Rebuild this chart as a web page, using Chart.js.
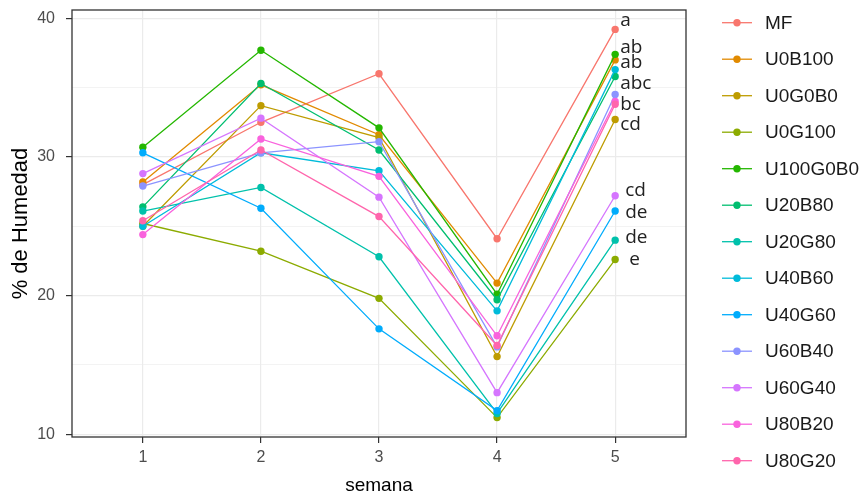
<!DOCTYPE html>
<html>
<head>
<meta charset="utf-8">
<script src="https://cdn.jsdelivr.net/npm/chart.js@4.4.0/dist/chart.umd.min.js"></script>
<style>
html, body { margin: 0; padding: 0; background: #fff; }
#wrap { width: 866px; height: 497px; }
</style>
</head>
<body>
<div id="wrap"><canvas id="chart-area" width="866" height="497"></canvas></div>
<script>
// semanas (eje x)
var semanas = [1, 2, 3, 4, 5];
var y_ticks = [10, 15, 20, 25, 30, 35, 40];

// % de humedad por tratamiento, semana 1..5
var MF       = [28.0, 32.5, 36.0, 24.1, 39.2];
var U0B100   = [28.2, 35.2, 31.6, 20.9, 37.0];
var U0G0B0   = [25.0, 33.7, 31.4, 15.6, 32.7];
var U0G100   = [25.2, 23.2, 19.8, 11.2, 22.6];
var U100G0B0 = [30.7, 37.7, 32.1, 20.1, 37.4];
var U20B80   = [26.4, 35.3, 30.5, 19.7, 35.8];
var U20G80   = [26.1, 27.8, 22.8, 11.5, 24.0];
var U40B60   = [25.0, 30.3, 29.0, 18.9, 36.3];
var U40G60   = [30.3, 26.3, 17.6, 11.7, 26.1];
var U60B40   = [27.9, 30.3, 31.1, 16.3, 34.5];
var U60G40   = [28.8, 32.8, 27.1, 13.0, 27.2];
var U80B20   = [24.4, 31.3, 28.6, 17.1, 34.0];
var U80G20   = [25.4, 30.5, 25.7, 16.4, 33.8];

// letras de significancia en la semana 5
var letras   = ['a', 'ab', 'ab', 'abc', 'bc', 'cd', 'cd', 'de', 'de', 'e'];
var letras_y = [39.8, 37.9, 36.8, 35.3, 33.8, 32.3, 27.6, 26.0, 24.2, 22.6];

var nombres = ['MF', 'U0B100', 'U0G0B0', 'U0G100', 'U100G0B0', 'U20B80', 'U20G80',
               'U40B60', 'U40G60', 'U60B40', 'U60G40', 'U80B20', 'U80G20'];
var series = [MF, U0B100, U0G0B0, U0G100, U100G0B0, U20B80, U20G80,
              U40B60, U40G60, U60B40, U60G40, U80B20, U80G20];
var colores = ['#F8766D', '#E18A00', '#BE9C00', '#8CAB00', '#24B700', '#00BE70', '#00C1AB',
               '#00BBDA', '#00ACFC', '#8B93FF', '#D575FE', '#F962DD', '#FF65AC'];

var datasets = [];
for (var i = 0; i < series.length; i++) {
  var pts = [];
  for (var j = 0; j < semanas.length; j++) {
    pts.push({x: semanas[j], y: series[i][j]});
  }
  datasets.push({
    label: nombres[i],
    data: pts,
    borderColor: colores[i],
    backgroundColor: colores[i],
    pointBackgroundColor: colores[i],
    pointBorderWidth: 0,
    pointRadius: 3.7,
    borderWidth: 1.3,
    tension: 0,
    order: series.length - i
  });
}

// marco del panel (theme_bw)
var panelBorder = {
  id: 'panelBorder',
  afterDatasetsDraw: function(chart) {
    var a = chart.chartArea, ctx = chart.ctx;
    ctx.save();
    ctx.strokeStyle = '#333333';
    ctx.lineWidth = 1.3;
    ctx.strokeRect(a.left, a.top, a.right - a.left, a.bottom - a.top);
    ctx.restore();
  }
};

// letras junto a la semana 5
var letrasPlugin = {
  id: 'letras',
  afterDatasetsDraw: function(chart) {
    var ctx = chart.ctx;
    var x0 = chart.scales.x.getPixelForValue(5);
    ctx.save();
    ctx.font = '19px "Open Sans"';
    ctx.fillStyle = '#222222';
    ctx.textAlign = 'left';
    ctx.textBaseline = 'middle';
    for (var k = 0; k < letras.length; k++) {
      var dx = k < 6 ? 5 : (k < 9 ? 10 : 14);
      ctx.fillText(letras[k], x0 + dx, chart.scales.y.getPixelForValue(letras_y[k]));
    }
    ctx.restore();
  }
};

// leyenda a la derecha, estilo ggplot
var leyenda = {
  id: 'leyenda',
  afterDraw: function(chart) {
    var ctx = chart.ctx;
    ctx.save();
    ctx.font = '19px "Liberation Sans", Arial, sans-serif';
    ctx.textBaseline = 'middle';
    ctx.textAlign = 'left';
    for (var k = 0; k < nombres.length; k++) {
      var y = 22.7 + k * 36.5;
      ctx.strokeStyle = colores[k];
      ctx.lineWidth = 1.3;
      ctx.beginPath();
      ctx.moveTo(722, y);
      ctx.lineTo(752, y);
      ctx.stroke();
      ctx.fillStyle = colores[k];
      ctx.beginPath();
      ctx.arc(737, y, 3.7, 0, Math.PI * 2);
      ctx.fill();
      ctx.fillStyle = '#1a1a1a';
      ctx.fillText(nombres[k], 765, y + 1);
    }
    ctx.restore();
  }
};

var config = {
  type: 'line',
  data: { datasets: datasets },
  options: {
    responsive: false,
    devicePixelRatio: 1,
    animation: false,
    events: [],
    layout: { padding: { top: 0, right: 180, left: 0, bottom: 0 } },
    plugins: { legend: { display: false }, tooltip: { enabled: false } },
    scales: {
      x: {
        type: 'linear',
        min: 0.4,
        max: 5.6,
        afterBuildTicks: function(scale) {
          scale.ticks = semanas.map(function(v) { return {value: v}; });
        },
        afterFit: function(scale) { scale.height = 60; },
        grid: { color: '#ebebeb', lineWidth: 1.2, tickColor: '#333333', tickLength: 6, drawTicks: true },
        border: { display: false },
        ticks: {
          color: '#4d4d4d',
          font: { family: '"Liberation Sans", Arial, sans-serif', size: 16 },
          padding: 5,
          maxRotation: 0,
          callback: function(v) { return v; }
        },
        title: {
          display: true,
          text: 'semana',
          color: '#000000',
          font: { family: '"Liberation Sans", Arial, sans-serif', size: 19 },
          padding: { top: 0, bottom: 0 }
        }
      },
      y: {
        type: 'linear',
        min: 9.8,
        max: 40.6,
        afterBuildTicks: function(scale) {
          scale.ticks = y_ticks.map(function(v) { return {value: v}; });
        },
        afterFit: function(scale) {
          scale.width = 72;
          scale.paddingTop = 10;
          scale.paddingBottom = 0;
        },
        grid: {
          color: '#ebebeb',
          lineWidth: function(c) { return (c.tick && c.tick.value % 10 === 0) ? 1.2 : 0.6; },
          tickColor: function(c) { return (c.tick && c.tick.value % 10 === 0) ? '#333333' : 'rgba(0,0,0,0)'; },
          tickLength: 6,
          drawTicks: true
        },
        border: { display: false },
        ticks: {
          color: '#4d4d4d',
          font: { family: '"Liberation Sans", Arial, sans-serif', size: 16 },
          padding: 11,
          callback: function(v) { return v % 10 === 0 ? v : ''; }
        },
        title: {
          display: true,
          text: '% de Humedad',
          color: '#000000',
          font: { family: '"Liberation Sans", Arial, sans-serif', size: 22 },
          padding: { top: 8, bottom: 0 }
        }
      }
    }
  },
  plugins: [panelBorder, letrasPlugin, leyenda]
};

var ctx = document.getElementById('chart-area').getContext('2d');
var chart = new Chart(ctx, config);
</script>
</body>
</html>
